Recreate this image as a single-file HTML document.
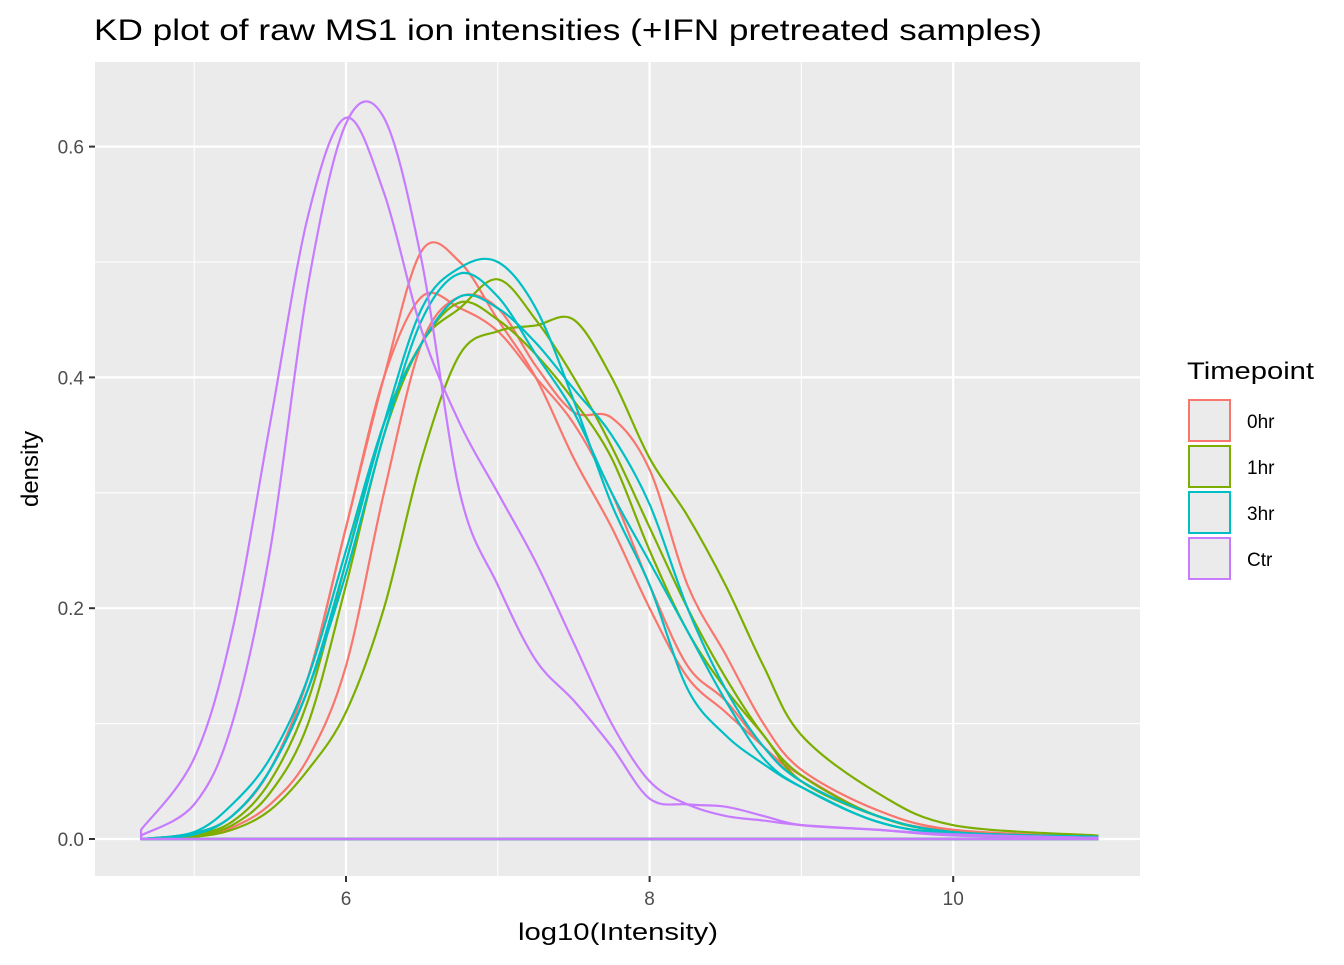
<!DOCTYPE html>
<html><head><meta charset="utf-8"><style>
body{margin:0;background:#fff;font-family:"Liberation Sans",Arial,sans-serif}
</style></head><body>
<svg id="chart" width="1344" height="960" xmlns="http://www.w3.org/2000/svg" font-family="Liberation Sans, Arial, sans-serif">
<text x="94" y="40" font-size="30" textLength="948" lengthAdjust="spacingAndGlyphs" fill="#000">KD plot of raw MS1 ion intensities (+IFN pretreated samples)</text>
<rect x="95" y="62" width="1045" height="814" fill="#ebebeb"/>
<g id="grid"></g>
<g id="series"></g>
<g id="axes"></g>
<text x="518" y="940" font-size="24" textLength="200" lengthAdjust="spacingAndGlyphs">log10(Intensity)</text>
<text transform="translate(38,469) rotate(-90)" font-size="24" text-anchor="middle">density</text>
<g id="legend">
<text x="1187" y="379" font-size="24" textLength="127" lengthAdjust="spacingAndGlyphs">Timepoint</text>
</g>
</svg>
<script>
const xGrid=[4.65,5,5.25,5.5,5.75,6,6.25,6.5,6.75,7,7.25,7.5,7.75,8,8.25,8.5,8.75,9,9.5,10,10.95];
const red1=[0,.005,.02,.06,.14,.27,.40,.51,.50,.45,.40,.33,.27,.20,.14,.11,.08,.05,.02,.006,.002];
const red2=[0,.004,.02,.06,.14,.27,.40,.47,.46,.44,.40,.36,.30,.22,.15,.12,.08,.055,.02,.007,.002];
const red3=[0,.002,.01,.03,.07,.15,.30,.43,.47,.46,.41,.37,.365,.32,.22,.16,.10,.06,.025,.008,.002];
const green1=[0,.002,.008,.025,.06,.11,.20,.33,.42,.44,.445,.45,.40,.33,.28,.22,.15,.09,.04,.012,.003];
const green2=[0,.003,.012,.04,.10,.22,.35,.43,.46,.485,.45,.40,.34,.27,.20,.14,.09,.055,.02,.006,.002];
const green3=[0,.004,.015,.05,.12,.24,.36,.43,.465,.45,.42,.38,.33,.25,.18,.13,.09,.05,.02,.006,.002];
const teal1=[0,.004,.02,.06,.13,.24,.36,.46,.495,.50,.46,.38,.29,.22,.13,.09,.065,.045,.015,.005,.002];
const teal2=[0,.005,.02,.06,.13,.23,.35,.45,.49,.47,.42,.37,.30,.24,.18,.12,.07,.045,.015,.005,.002];
const teal3=[0,.006,.03,.07,.14,.25,.36,.43,.47,.46,.43,.39,.35,.29,.20,.13,.08,.05,.02,.006,.002];
const ctrA=[.008,.07,.18,.36,.54,.625,.56,.44,.36,.30,.24,.17,.10,.05,.03,.02,.016,.012,.008,.004,.001];
const ctrB=[.003,.03,.10,.25,.48,.62,.625,.50,.30,.22,.155,.12,.08,.035,.03,.028,.02,.012,.008,.003,.001];
const groups=["0hr","1hr","3hr","Ctr"];
const colors={"0hr":"#F8766D","1hr":"#7CAE00","3hr":"#00BFC4","Ctr":"#C77CFF"};
const seriesList=[["0hr",red1],["0hr",red2],["0hr",red3],["1hr",green1],["1hr",green2],["1hr",green3],["3hr",teal1],["3hr",teal2],["3hr",teal3],["Ctr",ctrA],["Ctr",ctrB]];
const xTicks=[6,8,10], xMinor=[5,7,9];
const yTicks=[0,0.2,0.4,0.6], yMinor=[0.1,0.3,0.5];
const yTickLabels=["0.0","0.2","0.4","0.6"];
const X=v=>346+(v-6)*151.8;
const Y=v=>839-v*1154;
const NS="http://www.w3.org/2000/svg";
function mk(tag,attrs,parent){const e=document.createElementNS(NS,tag);for(const k in attrs)e.setAttribute(k,attrs[k]);parent.appendChild(e);return e;}
const grid=document.getElementById('grid'),axes=document.getElementById('axes'),ser=document.getElementById('series'),leg=document.getElementById('legend');
xMinor.forEach(v=>{const l=mk('line',{x1:X(v),x2:X(v),y1:62,y2:876,stroke:'#fff','stroke-width':1.1},grid);});
yMinor.forEach(v=>{const l=mk('line',{x1:95,x2:1140,y1:Y(v),y2:Y(v),stroke:'#fff','stroke-width':1.1},grid);});
xTicks.forEach(v=>{const l=mk('line',{x1:X(v),x2:X(v),y1:62,y2:876,stroke:'#fff','stroke-width':2.2},grid);
 const t=mk('line',{x1:X(v),x2:X(v),y1:876,y2:882,stroke:'#333','stroke-width':2},axes);
 const tx=mk('text',{x:X(v),y:905,'font-size':19,fill:'#4d4d4d','text-anchor':'middle'},axes);tx.textContent=v;});
yTicks.forEach((v,i)=>{const l=mk('line',{x1:95,x2:1140,y1:Y(v),y2:Y(v),stroke:'#fff','stroke-width':2.2},grid);
 const t=mk('line',{x1:89,x2:95,y1:Y(v),y2:Y(v),stroke:'#333','stroke-width':2},axes);
 const tx=mk('text',{x:84,y:Y(v)+7,'font-size':19,fill:'#4d4d4d','text-anchor':'end'},axes);tx.textContent=yTickLabels[i];});
function smoothPath(pts){let d=`M${pts[0][0]},${pts[0][1]}`;for(let i=0;i<pts.length-1;i++){const p0=pts[Math.max(0,i-1)],p1=pts[i],p2=pts[i+1],p3=pts[Math.min(pts.length-1,i+2)];
 const c1=[p1[0]+(p2[0]-p0[0])/6,p1[1]+(p2[1]-p0[1])/6],c2=[p2[0]-(p3[0]-p1[0])/6,p2[1]-(p3[1]-p1[1])/6];d+=` C${c1[0]},${c1[1]} ${c2[0]},${c2[1]} ${p2[0]},${p2[1]}`;}return d;}
seriesList.forEach(([g,vals])=>{const pts=xGrid.map((x,i)=>[X(x),Y(vals[i])]);
 let d=`M${X(xGrid[0])},${Y(0)} L`+smoothPath(pts).slice(1)+` L${X(xGrid[xGrid.length-1])},${Y(0)} Z`;
 const p=mk('path',{d:d,fill:'none',stroke:colors[g],'stroke-width':2.2},ser);});
groups.forEach((g,i)=>{const y=399+i*46;
 const r=mk('rect',{x:1189,y:y+1,width:41,height:41,fill:'#ebebeb',stroke:colors[g],'stroke-width':2},leg);
 const t=mk('text',{x:1247,y:y+29,'font-size':19,fill:'#000'},leg);t.textContent=g;});
</script>
</body></html>
